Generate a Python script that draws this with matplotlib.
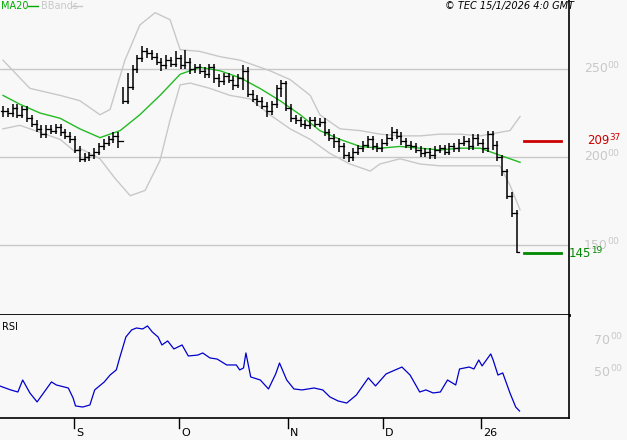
import matplotlib
matplotlib.use('Agg')
import matplotlib.pyplot as plt

# ---------- data (bar index units) ----------
closes = [226, 225, 228, 224, 227, 222, 219, 216, 213, 216, 215, 217, 214, 212, 210,
          204, 199, 200, 201, 203, 206, 208, 210, 212, 209, 232, 240, 250, 256, 260,
          259, 257, 254, 252, 255, 253, 256, 252, 254, 250, 251, 249, 247, 251, 245,
          243, 246, 244, 241, 245, 249, 236, 233, 232, 229, 226, 230, 239, 242, 228,
          222, 221, 219, 218, 221, 219, 220, 214, 211, 209, 206, 201, 200, 203, 205,
          207, 210, 206, 205, 208, 211, 214, 212, 209, 207, 206, 204, 202, 203, 201,
          204, 205, 203, 206, 205, 208, 209, 206, 211, 208, 205, 213, 207, 200, 192,
          178, 168, 146]
highs = [229, 228, 230, 230, 229, 229, 224, 221, 218, 218, 218, 219, 219, 216, 214,
         212, 206, 202, 203, 205, 208, 210, 212, 214, 214, 240, 248, 252, 258, 263,
         262, 261, 259, 256, 258, 257, 260, 258, 261, 256, 253, 253, 251, 253, 253,
         247, 248, 248, 246, 247, 252, 251, 238, 235, 234, 231, 232, 241, 244, 243,
         230, 224, 223, 221, 223, 223, 222, 222, 216, 213, 211, 208, 203, 205, 207,
         209, 212, 212, 208, 210, 213, 217, 216, 214, 211, 209, 208, 206, 205, 205,
         206, 207, 207, 208, 208, 210, 212, 211, 213, 213, 210, 215, 215, 209, 201,
         193, 180, 170]
lows = [223, 223, 223, 222, 222, 220, 217, 214, 211, 211, 213, 213, 212, 210, 208,
        202, 197, 197, 198, 199, 201, 204, 206, 208, 205, 230, 230, 238, 248, 254,
        256, 255, 252, 249, 250, 251, 251, 250, 250, 247, 248, 247, 245, 245, 242,
        240, 241, 242, 238, 239, 238, 234, 231, 229, 227, 223, 224, 228, 234, 226,
        220, 219, 217, 216, 216, 217, 217, 212, 209, 205, 203, 199, 197, 198, 201,
        203, 205, 204, 203, 203, 206, 209, 210, 207, 205, 204, 202, 200, 200, 199,
        199, 202, 201, 201, 203, 203, 206, 204, 204, 206, 202, 203, 204, 198, 189,
        176, 166, 145.19]

ma_idx = [0, 3.5, 7.7, 11.9, 16, 20.2, 24.4, 28.5, 32.7, 36.9, 41, 45.2, 49.4, 53.5,
          57.7, 61.9, 66, 70.2, 74.4, 78.5, 82.7, 86.9, 91, 95.2, 99.4, 103.5, 107.7]
ma20 = [235, 230, 225, 222, 216, 211, 215, 224, 235, 247, 251, 249, 245, 239, 232,
        224, 215, 210, 206, 205, 206, 205, 204, 205, 205, 201, 197]

bbu_idx = [0, 3.5, 5.6, 11.9, 16, 20.2, 22.3, 25.4, 28.5, 31.7, 34.8, 36.9, 41, 45.2,
           49.4, 55.6, 59.8, 64, 66, 70.2, 74.4, 78.5, 82.7, 86.9, 91, 95.2, 99.4,
           103.5, 105.6, 107.7]
bb_upper = [255, 245, 239, 235, 232, 224, 227, 255, 275, 282, 278, 261, 260, 257,
            255, 249, 244, 235, 224, 216, 215, 213, 212, 212, 213, 213, 212, 214,
            215, 223]
bbl_idx = [0, 3.5, 6.7, 11.9, 15, 16, 20.2, 23.3, 26.5, 29.6, 32.7, 34.8, 36.9, 39,
           43.1, 47.3, 51.5, 55.6, 59.8, 64, 68.1, 72.3, 76.5, 78.5, 82.7, 86.9, 91,
           95.2, 99.4, 103.5, 105.6, 107.7]
bb_lower = [216, 218, 215, 210, 203, 205, 199, 188, 178, 181, 198, 221, 241, 242,
            239, 235, 233, 224, 216, 210, 202, 196, 192, 196, 199, 196, 195, 195,
            195, 195, 184, 170]

rsi_idx = [-0.7, 1.6, 3.1, 4.1, 5.6, 7.1, 10.1, 11.1, 13.6, 14.6, 15.1, 16.6, 18.1,
           19.1, 21.1, 22.3, 23.6, 24.3, 25.6, 26.8, 27.8, 29.1, 30.1, 31.1, 32.3,
           33.1, 34.3, 35.6, 37.3, 38.6, 40.6, 41.6, 43.1, 44.6, 46.6, 48.6, 49.3,
           50.1, 50.6, 51.6, 53.6, 55.3, 56.8, 57.6, 59.1, 60.6, 62.3, 64.8, 66.6,
           68.1, 69.8, 71.6, 73.6, 76.1, 77.6, 79.8, 83.1, 84.8, 86.8, 88.1, 89.6,
           91.1, 92.6, 94.3, 95.1, 96.1, 97.1, 98.1, 99.1, 99.8, 101.6, 102.1, 103.1,
           104.1, 105.6, 106.8, 107.6]
rsi = [41.3, 38.8, 37.5, 45, 36.9, 31.3, 43.8, 41.9, 40, 33.8, 28.8, 28.1, 29.4,
       38.8, 43.8, 48.1, 51.3, 58.8, 71.9, 76.3, 77.5, 76.9, 78.8, 75, 71.9, 66.9,
       69.4, 64.4, 66.9, 60, 60.6, 61.9, 58.8, 58.1, 54.4, 54.4, 51.3, 52.5, 61.9,
       46.9, 45, 39.4, 48.8, 55.6, 45, 39.4, 38.8, 40, 38.8, 34.4, 31.9, 30.6, 35.6,
       46.3, 41.3, 48.8, 53.1, 48.1, 37.5, 38.8, 36.9, 37.5, 45, 41.9, 51.9, 52.5,
       53.1, 51.9, 57.5, 53.8, 61.3, 57.5, 48.1, 49.4, 36.9, 28.1, 25.6]

month_labels = ['S', 'O', 'N', 'D', '26']
month_idx = [14.8, 36.7, 59.4, 79.2, 99.6]
price_grid = [250, 200, 150]
rsi_grid = [70, 50]
resistance = 209.37
support = 145.19

# ---------- layout (pixels) ----------
W, H = 627, 440
BG = '#f8f8f8'
GRID = '#c8c8c8'
fig = plt.figure(figsize=(W / 100, H / 100), dpi=100, facecolor=BG)


def rect(x0, y0, x1, y1):
    return [x0 / W, 1 - y1 / H, (x1 - x0) / W, (y1 - y0) / H]


xlim = (-0.625, 117.9)
ax = fig.add_axes(rect(0, 0, 569, 315), facecolor=BG)
ax2 = fig.add_axes(rect(0, 315, 569, 418), facecolor=BG)
for a in (ax, ax2):
    a.set_xlim(*xlim)
    a.set_xticks([])
    a.set_yticks([])
    for s in a.spines.values():
        s.set_visible(False)
    a.spines['right'].set_visible(True)
    a.spines['right'].set_linewidth(1.2)
ax.spines['bottom'].set_visible(True)
ax.spines['bottom'].set_linewidth(2)
ax2.spines['bottom'].set_visible(True)
ax2.spines['bottom'].set_linewidth(1.2)

# price panel: 250 at y=69, 88px per 50
ax.set_ylim(150 - 70 / 88 * 50, 250 + 69 / 88 * 50)
for g in price_grid:
    ax.axhline(g, color=GRID, lw=1)
ax.plot(bbu_idx, bb_upper, color='#c8c8c8', lw=1)
ax.plot(bbl_idx, bb_lower, color='#c8c8c8', lw=1)
ax.plot(ma_idx, ma20, color='#22bb22', lw=1)
prev = closes[0]
for i, (c, h, l) in enumerate(zip(closes, highs, lows)):
    ax.plot([i, i], [l, h], color='black', lw=1.1, solid_capstyle='butt')
    ax.plot([i - 0.4, i], [prev, prev], color='black', lw=0.9)
    ax.plot([i, i + 0.4], [c, c], color='black', lw=0.9)
    prev = c

# support / resistance markers
ax.plot([108.6, 116.3], [resistance, resistance], color='#cc0000', lw=2, clip_on=False)
ax.plot([108.6, 116.3], [support, support], color='#008800', lw=2, clip_on=False)


def price_label(a, x, v, color, small=None, fs=8.5):
    whole = f'{int(v)}'
    frac = small if small is not None else f'{round((v - int(v)) * 100):02d}'
    t = a.annotate(whole, (x, v), xycoords=('figure pixels', 'data'), color=color,
                   fontsize=fs, va='center', ha='left', annotation_clip=False)
    a.annotate(frac, (1, 0.75), xycoords=t, color=color, fontsize=fs * 0.75,
               va='center', ha='left', annotation_clip=False)


for g in price_grid:
    price_label(ax, 584, g, '#c8c8c8', fs=9)
price_label(ax, 587, resistance, '#cc0000')
price_label(ax, 569, support, '#008800')

# RSI panel: 70 at y=340, 50 at y=372 (local y from 315)
ax2.set_ylim(50 - (418 - 372) / 1.6, 70 + (340 - 315) / 1.6)
ax2.plot(rsi_idx, rsi, color='#0000cc', lw=0.9)
for g in rsi_grid:
    price_label(ax2, 594, g, '#c8c8c8', fs=9)
ax2.text(0.004, 0.88, 'RSI', transform=ax2.transAxes, fontsize=7, va='center')

# month ticks below
for lab, mi in zip(month_labels, month_idx):
    ax2.plot([mi, mi], [0, -0.1], transform=ax2.get_xaxis_transform(),
             color='black', lw=1, clip_on=False)
    ax2.text(mi + 0.4, -0.15, lab, transform=ax2.get_xaxis_transform(),
             fontsize=8, va='center', ha='left')

# header
fig.text(1 / W, 1 - 6 / H, 'MA20', color='#00aa00', fontsize=7, va='center')
fig.add_artist(plt.Line2D([28 / W, 38 / W], [1 - 6 / H] * 2, color='#00aa00', lw=1))
fig.text(41 / W, 1 - 6 / H, 'BBands', color='#c8c8c8', fontsize=7, va='center')
fig.add_artist(plt.Line2D([72 / W, 82 / W], [1 - 6 / H] * 2, color='#c8c8c8', lw=1))
fig.text(574 / W, 1 - 6 / H, '© TEC 15/1/2026 4:0 GMT', fontsize=7, style='italic',
         va='center', ha='right')

fig.savefig('out.png', dpi=100, facecolor=BG)
